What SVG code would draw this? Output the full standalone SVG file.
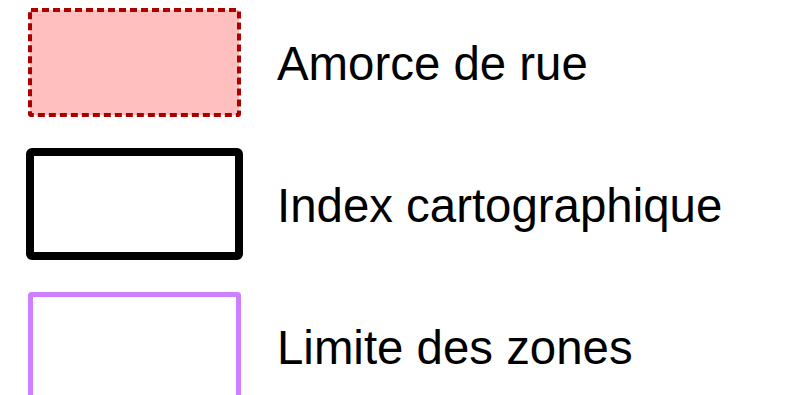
<svg xmlns="http://www.w3.org/2000/svg" width="792" height="395" viewBox="0 0 792 395">
<style>
.lbl{font-family:"Liberation Sans",Arial,sans-serif;font-size:47.4px;fill:#000}
</style>
<rect width="792" height="395" fill="#fff"/>
<g id="amorce">
<rect x="30" y="10" width="209" height="105" rx="1" fill="#ffbfbf" stroke="#aa0000" stroke-width="4" stroke-dasharray="7,4"/>
<text class="lbl" x="277" y="80">Amorce de rue</text>
</g>
<g id="index">
<rect x="30" y="152" width="209" height="104" rx="2" fill="#fff" stroke="#000" stroke-width="8"/>
<text class="lbl" x="277" y="222">Index cartographique</text>
</g>
<g id="limite">
<rect x="30.5" y="294.5" width="208" height="120" rx="1" fill="#fff" stroke="#cc80ff" stroke-width="5"/>
<text class="lbl" x="277" y="364">Limite des zones</text>
</g>
<g id="connectors"/>
</svg>
